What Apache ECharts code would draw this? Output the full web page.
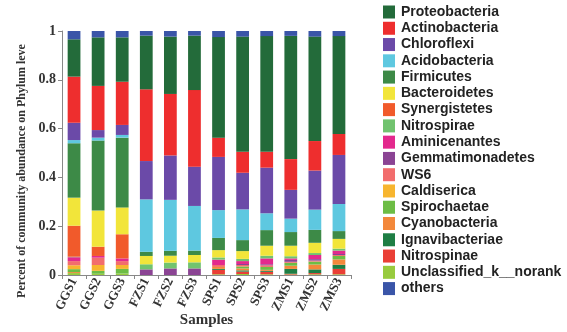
<!DOCTYPE html>
<html>
<head>
<meta charset="utf-8">
<script src="https://cdn.jsdelivr.net/npm/echarts@6/dist/echarts.min.js"></script>
<style>
  html, body { margin: 0; padding: 0; background: #fff; }
  #chart { width: 567px; height: 332px; }
</style>
</head>
<body>
<div id="chart"></div>
<script>
// Samples on the x axis
const samples = ['GGS1','GGS2','GGS3','FZS1','FZS2','FZS3','SPS1','SPS2','SPS3','ZMS1','ZMS2','ZMS3'];
const yTicks = [0, 0.2, 0.4, 0.6, 0.8, 1];

// Relative abundance per phylum, one value per sample
const unclassified     = [0.008,0.005,0.006,0,0,0,0.003,0.004,0.003,0.002,0.003,0.003];
const nitrospinae      = [0,0,0,0,0,0,0.018,0.010,0.010,0.003,0.005,0.022];
const ignavibacteriae  = [0,0,0,0,0,0,0.004,0.005,0.004,0.020,0.015,0.017];
const cyanobacteria    = [0.004,0,0,0,0,0,0.008,0.008,0.004,0.013,0.020,0.022];
const spirochaetae     = [0.012,0.012,0.019,0,0,0,0,0.008,0.012,0.012,0.012,0.014];
const caldiserica      = [0.016,0.024,0.016,0,0,0,0,0,0,0,0,0];
const ws6              = [0.017,0.030,0.016,0,0,0,0.008,0.006,0.007,0.004,0.004,0.004];
const gemmatimonadetes = [0,0,0,0.023,0.027,0.027,0,0.004,0.004,0.008,0.006,0.004];
const aminicenantes    = [0.016,0.007,0.011,0,0,0,0.022,0.012,0.024,0.006,0.017,0.014];
const nitrospirae      = [0.002,0,0,0.021,0.024,0.025,0.009,0.009,0.011,0.009,0.008,0.008];
const synergistetes    = [0.127,0.038,0.099,0,0,0,0,0,0,0,0,0];
const bacteroidetes    = [0.115,0.148,0.110,0.034,0.028,0.030,0.030,0.032,0.041,0.043,0.042,0.040];
const firmicutes       = [0.223,0.287,0.286,0.017,0.020,0.018,0.050,0.045,0.064,0.056,0.053,0.032];
const acidobacteria    = [0.013,0.012,0.011,0.215,0.209,0.183,0.114,0.126,0.069,0.055,0.083,0.111];
const chloroflexi      = [0.071,0.031,0.041,0.157,0.182,0.161,0.218,0.150,0.187,0.118,0.160,0.201];
const actinobacteria   = [0.189,0.181,0.177,0.294,0.252,0.314,0.079,0.086,0.065,0.126,0.121,0.086];
const proteobacteria   = [0.153,0.199,0.182,0.220,0.235,0.223,0.412,0.472,0.474,0.505,0.428,0.401];
const others           = [0.034,0.026,0.026,0.019,0.023,0.019,0.025,0.023,0.021,0.020,0.023,0.021];

// Legend order (top to bottom)
const legendOrder = ['Proteobacteria','Actinobacteria','Chloroflexi','Acidobacteria','Firmicutes',
  'Bacteroidetes','Synergistetes','Nitrospirae','Aminicenantes','Gemmatimonadetes','WS6',
  'Caldiserica','Spirochaetae','Cyanobacteria','Ignavibacteriae','Nitrospinae',
  'Unclassified_k__norank','others'];

// Stack order, bottom segment first
const stackLayers = [
  ['Unclassified_k__norank', unclassified, '#98cb3e'],
  ['Nitrospinae', nitrospinae, '#ea3f36'],
  ['Ignavibacteriae', ignavibacteriae, '#1e7e44'],
  ['Cyanobacteria', cyanobacteria, '#f3883b'],
  ['Spirochaetae', spirochaetae, '#6dbd45'],
  ['Caldiserica', caldiserica, '#f7b52f'],
  ['WS6', ws6, '#f26d6d'],
  ['Gemmatimonadetes', gemmatimonadetes, '#8b4494'],
  ['Aminicenantes', aminicenantes, '#e3298d'],
  ['Nitrospirae', nitrospirae, '#71c36f'],
  ['Synergistetes', synergistetes, '#f15a2b'],
  ['Bacteroidetes', bacteroidetes, '#f2e53a'],
  ['Firmicutes', firmicutes, '#3d8a47'],
  ['Acidobacteria', acidobacteria, '#5ec8e0'],
  ['Chloroflexi', chloroflexi, '#6b4aa8'],
  ['Actinobacteria', actinobacteria, '#ee2e2e'],
  ['Proteobacteria', proteobacteria, '#236b3a'],
  ['others', others, '#3a55a8']
];

const serif = '"Liberation Serif", "DejaVu Serif", serif';
const sans = '"Liberation Sans", Arial, sans-serif';

const chart = echarts.init(document.getElementById('chart'));
chart.setOption({
  animation: false,
  grid: { left: 62, right: 216, top: 31, bottom: 57, containLabel: false, outerBoundsMode: 'none' },
  legend: {
    data: legendOrder,
    orient: 'vertical',
    left: 383,
    top: 5,
    padding: 0,
    icon: 'rect',
    itemWidth: 12,
    itemHeight: 13,
    itemGap: 2.27,
    textStyle: { fontFamily: sans, fontWeight: 'bold', fontSize: 14, color: '#222', lineHeight: 14, padding: [0,0,0,1] }
  },
  graphic: [{
    type: 'text',
    x: 22, y: 171,
    rotation: Math.PI / 2,
    style: {
      text: 'Percent of community abundance on Phylum leve',
      font: 'bold 12px ' + serif,
      fill: '#333',
      align: 'center',
      verticalAlign: 'middle'
    }
  }],
  xAxis: {
    type: 'category',
    data: samples,
    name: 'Samples',
    nameLocation: 'middle',
    nameGap: 38,
    nameMoveOverlap: false,
    nameTextStyle: { fontFamily: serif, fontWeight: 'bold', fontSize: 15, color: '#333' },
    axisLine: { lineStyle: { color: '#888' } },
    axisTick: { show: true, length: 4, lineStyle: { color: '#888' } },
    axisLabel: { rotate: 64, margin: 4, fontFamily: serif, fontWeight: 'bold', fontSize: 13, color: '#333' }
  },
  yAxis: {
    type: 'value',
    min: 0,
    max: 1,
    interval: 0.2,
    splitLine: { show: false },
    axisLine: { show: true, lineStyle: { color: '#888' } },
    axisTick: { show: true, length: 4, lineStyle: { color: '#888' } },
    axisLabel: {
      fontFamily: serif, fontWeight: 'bold', fontSize: 14, color: '#333', margin: 6,
      formatter: v => yTicks.includes(+v.toFixed(1)) ? String(+v.toFixed(1)) : ''
    }
  },
  series: stackLayers.map(([name, values, color]) => ({
    name: name,
    type: 'bar',
    stack: 'abundance',
    barWidth: '53%',
    data: values,
    itemStyle: { color: color }
  }))
});
</script>
</body>
</html>
